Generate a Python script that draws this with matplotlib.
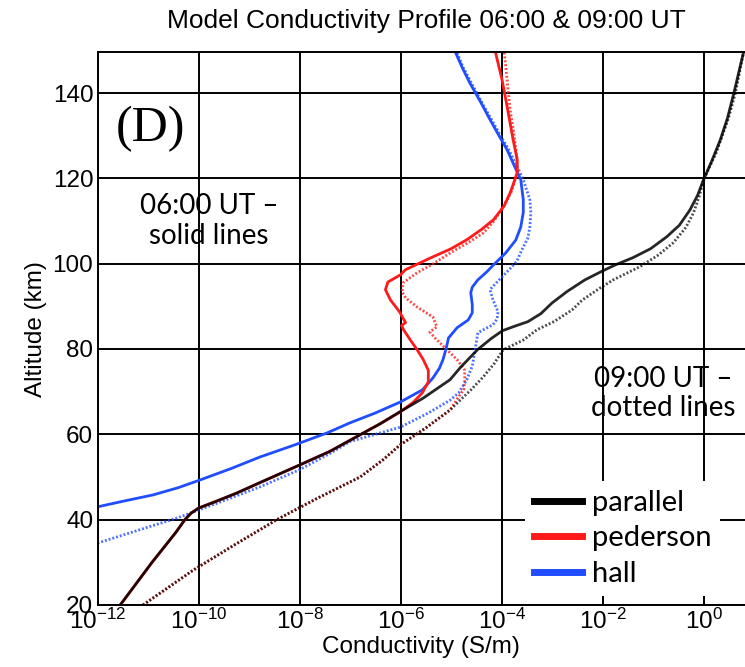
import numpy as np
import matplotlib
matplotlib.use("Agg")
import matplotlib.pyplot as plt
from matplotlib.ticker import FixedLocator, LogFormatterSciNotation

plt.rcParams["font.family"] = ["Liberation Sans", "DejaVu Sans"]
plt.rcParams["mathtext.default"] = "regular"

# altitude (km) and log10 conductivity (S/m), read per profile
par_06_alt = [20, 30, 37, 40, 41.5, 42.7, 44.3, 46.2, 48.7, 52.8, 56, 59.9, 62.5, 65.3,
              68.5, 72.8, 75.6, 79.8, 82.5, 84.3, 85.3, 86.4, 88.3, 90.8, 93.5, 96.2,
              98.3, 99.7, 101.4, 103.5, 106.3, 109, 112.6, 116, 119.7, 124, 129, 134,
              140, 145, 150]
par_06_log = [-11.55, -10.92, -10.45, -10.27, -10.15, -10.0, -9.65, -9.25, -8.78, -8.0,
              -7.4, -6.8, -6.4, -6.01, -5.55, -5.02, -4.82, -4.48, -4.2, -3.98, -3.75,
              -3.48, -3.22, -3.0, -2.7, -2.35, -2.0, -1.75, -1.4, -1.05, -0.73, -0.48,
              -0.27, -0.12, 0.0, 0.16, 0.33, 0.47, 0.6, 0.7, 0.8]

par_09_alt = [20, 28.2, 34, 40, 45, 50, 54, 57.5, 61.5, 65.7, 68, 70.5, 73.5, 76.5, 79.8,
              82.1, 84.5, 86.5, 89.2, 91.5, 94.3, 96.2, 99.3, 102, 104.9, 108.5, 111.9,
              116, 119.7, 126, 134, 140, 146, 150]
par_09_log = [-11.1, -10.1, -9.3, -8.45, -7.65, -6.8, -6.35, -6.01, -5.5, -5.02, -4.82,
              -4.6, -4.36, -4.15, -3.97, -3.57, -3.3, -2.95, -2.6, -2.4, -2.05, -1.79,
              -1.26, -0.9, -0.6, -0.35, -0.2, -0.08, 0.0, 0.25, 0.49, 0.63, 0.73, 0.8]

ped_06_alt = [20, 30, 37, 40, 41.5, 42.7, 44.3, 46.2, 48.7, 52.8, 56, 59.9, 62.5, 65.3,
              67.5, 69.7, 72.3, 75, 77.5, 79.8, 82, 84.5, 85.5, 86.2, 87.2, 88.7, 91.5,
              93.9, 95.7, 97.4, 98.6, 100, 101.6, 103.5, 105.6, 108, 110.3, 113.5, 116.6,
              121.3, 124.4, 129, 136.8, 143.1, 150]
ped_06_log = [-11.55, -10.92, -10.45, -10.27, -10.15, -10.0, -9.65, -9.25, -8.78, -8.0,
              -7.4, -6.8, -6.4, -6.0, -5.75, -5.57, -5.45, -5.45, -5.55, -5.67, -5.8,
              -5.94, -5.98, -5.9, -5.95, -6.02, -6.2, -6.3, -6.25, -6.0, -5.9, -5.65,
              -5.36, -5.0, -4.69, -4.4, -4.16, -3.95, -3.83, -3.69, -3.69, -3.77, -3.89,
              -3.99, -4.13]

ped_09_alt = [20, 28.2, 34, 40, 45, 50, 54, 57.5, 61.5, 65.7, 68.8, 70.5, 72.3, 75, 77.5,
              79.8, 82.6, 84, 85.2, 87.5, 89.9, 92, 93.4, 95.5, 97.9, 100, 102.5, 105,
              107.2, 110, 113.3, 117, 121.3, 125, 130, 136, 143, 150]
ped_09_log = [-11.1, -10.1, -9.3, -8.45, -7.65, -6.8, -6.35, -6.01, -5.5, -5.02, -4.85,
              -4.75, -4.73, -4.73, -4.88, -5.08, -5.32, -5.42, -5.28, -5.36, -5.68, -5.9,
              -5.97, -5.95, -5.67, -5.35, -5.02, -4.65, -4.36, -4.15, -3.97, -3.8, -3.69,
              -3.7, -3.75, -3.83, -3.89, -3.95]

hall_06_alt = [43, 44.3, 45.8, 47.5, 49.3, 52, 54.7, 57.5, 60.3, 62.7, 65, 67.6, 70.4,
               73.2, 75.5, 77.5, 80, 82.6, 84, 85, 86.8, 88.5, 90.4, 93.2, 94.5, 96.2, 98,
               99.7, 102.5, 105.5, 108.6, 112, 115, 119.7, 123, 126.7, 130, 133.8, 138,
               142.4, 146, 150]
hall_06_log = [-12.0, -11.5, -10.9, -10.4, -9.97, -9.35, -8.78, -8.1, -7.46, -7.0, -6.5,
               -6.0, -5.57, -5.36, -5.23, -5.16, -5.1, -5.05, -4.95, -4.88, -4.66, -4.58,
               -4.58, -4.61, -4.58, -4.47, -4.3, -4.16, -3.92, -3.72, -3.62, -3.57, -3.57,
               -3.62, -3.75, -3.89, -4.05, -4.23, -4.42, -4.63, -4.78, -4.93]

hall_09_alt = [34.5, 37.5, 40.4, 44, 47.7, 51.7, 55.5, 58.3, 61.7, 65, 68, 69.7, 72.8, 76,
               79.3, 83.8, 85.7, 87, 88.7, 91.5, 93.9, 95.7, 98.6, 100.5, 103.2, 106,
               108.6, 112, 115, 119.7, 123, 127, 130, 134, 138, 142.4, 146, 150]
hall_09_log = [-12.0, -11.2, -10.42, -9.6, -8.78, -8.0, -7.4, -7.0, -6.0, -5.45, -5.02,
               -4.85, -4.69, -4.58, -4.53, -4.47, -4.17, -4.09, -4.07, -4.17, -4.23, -4.09,
               -3.85, -3.7, -3.6, -3.48, -3.44, -3.42, -3.44, -3.57, -3.7, -3.87, -4.02,
               -4.21, -4.4, -4.6, -4.76, -4.9]

x_ticks = [1e-12, 1e-10, 1e-8, 1e-6, 1e-4, 1e-2, 1e0]
y_ticks = [20, 40, 60, 80, 100, 120, 140]

BLACK = "#000000"
RED = "#ff1a1a"
BLUE = "#1f4dff"

fig = plt.figure(figsize=(7.45, 6.67), dpi=100)
ax = fig.add_axes([0.1309, 0.0930, 0.8691, 0.8283])

dot = (0, (0.7, 0.7))
ax.plot(10 ** np.array(hall_09_log), hall_09_alt, color=BLUE, lw=2.0, ls=dot, alpha=0.8)
ax.plot(10 ** np.array(ped_09_log), ped_09_alt, color=RED, lw=2.0, ls=dot, alpha=0.8)
ax.plot(10 ** np.array(par_09_log), par_09_alt, color=BLACK, lw=2.0, ls=dot, alpha=0.7)
ax.plot(10 ** np.array(hall_06_log), hall_06_alt, color=BLUE, lw=2.0)
ax.plot(10 ** np.array(ped_06_log), ped_06_alt, color=RED, lw=2.0)
ax.plot(10 ** np.array(par_06_log), par_06_alt, color=BLACK, lw=2.0, alpha=0.85)

ax.set_xscale("log")
ax.set_xlim(1e-12, 10 ** 0.82)
ax.set_ylim(20, 149.5)
ax.xaxis.set_major_locator(FixedLocator(x_ticks))
ax.xaxis.set_minor_locator(FixedLocator([]))
ax.xaxis.set_major_formatter(LogFormatterSciNotation())
ax.set_yticks(y_ticks)
ax.tick_params(length=0, labelsize=17.5, pad=3)
ax.grid(True, color="black", lw=1.4)
for side in ("left", "bottom", "top"):
    ax.spines[side].set_linewidth(1.4)
ax.spines["right"].set_visible(False)

ax.set_xlabel("Conductivity (S/m)", fontsize=17.5, labelpad=1)
ax.set_ylabel("Altitude (km)", fontsize=17.5, labelpad=4)
fig.text(0.572, 1 - 21 / 667, "Model Conductivity Profile 06:00 & 09:00 UT",
         ha="center", va="center", fontsize=19)

ax.text(0.082, 0.862, "(D)", transform=ax.transAxes, ha="center", va="center",
        fontsize=36, family=["Liberation Serif", "DejaVu Serif"])
ax.text(0.172, 0.695, "06:00 UT \u2013\nsolid lines", transform=ax.transAxes,
        ha="center", va="center", fontsize=20, linespacing=1.15,
        family=["Lato", "DejaVu Sans"])
ax.text(0.873, 0.383, "09:00 UT \u2013\ndotted lines", transform=ax.transAxes,
        ha="center", va="center", fontsize=20, linespacing=1.15,
        family=["Lato", "DejaVu Sans"])

handles = [plt.Line2D([], [], color=c, lw=5) for c in (BLACK, RED, BLUE)]
leg = ax.legend(handles, ["parallel", "pederson", "hall"],
                loc="upper left", bbox_to_anchor=(525 / 745, 1 - 481 / 667),
                bbox_transform=fig.transFigure, borderaxespad=0, borderpad=0.3,
                handlelength=1.65, handletextpad=0.35, labelspacing=0.33,
                frameon=True, fancybox=False,
                prop={"family": ["Lato", "DejaVu Sans"], "size": 21})
leg.get_frame().set_facecolor("white")
leg.get_frame().set_edgecolor("none")
leg.get_frame().set_alpha(1)

fig.savefig("out.png", dpi=100)
